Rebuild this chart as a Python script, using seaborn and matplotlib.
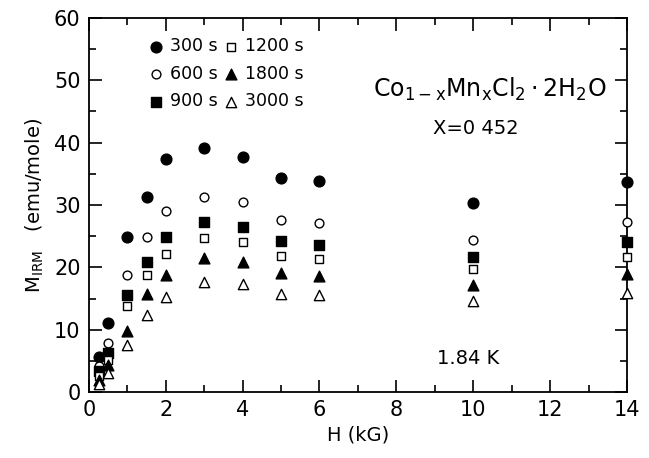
import pandas as pd
import seaborn as sns
import matplotlib.pyplot as plt
from matplotlib.ticker import MultipleLocator

# поле H (kG)
h_vals = [0.25, 0.5, 1, 1.5, 2, 3, 4, 5, 6, 10, 14]

# M_IRM для разных времен выдержки, читано с картинки
m_300 = [5.7, 11.1, 24.8, 31.2, 37.3, 39.1, 37.7, 34.3, 33.8, 30.3, 33.7]
m_600 = [4.1, 7.9, 18.8, 24.9, 29.1, 31.3, 30.4, 27.6, 27.1, 24.4, 27.3]
m_900 = [3.3, 6.3, 15.6, 20.8, 24.9, 27.2, 26.5, 24.2, 23.6, 21.7, 24.0]
m_1200 = [2.5, 5.2, 13.8, 18.8, 22.2, 24.7, 24.0, 21.8, 21.3, 19.8, 21.7]
m_1800 = [1.9, 4.3, 9.8, 15.7, 18.7, 21.5, 20.8, 19.1, 18.6, 17.1, 18.9]
m_3000 = [1.3, 3.0, 7.6, 12.4, 15.3, 17.7, 17.3, 15.7, 15.5, 14.6, 15.9]

labels = ['300 s', '600 s', '900 s', '1200 s', '1800 s', '3000 s']
series = [m_300, m_600, m_900, m_1200, m_1800, m_3000]
# маркер и заливка для каждой серии
styles = [('o', 'black', 60), ('o', 'white', 40), ('s', 'black', 45),
          ('s', 'white', 38), ('^', 'black', 60), ('^', 'white', 55)]

df = pd.concat([pd.DataFrame({'H': h_vals, 'M': m, 't': lab})
                for m, lab in zip(series, labels)], ignore_index=True)

sns.set_style('ticks', {'axes.edgecolor': 'black', 'text.color': 'black',
                        'axes.labelcolor': 'black', 'xtick.color': 'black',
                        'ytick.color': 'black'})
plt.rcParams['font.family'] = ['DejaVu Sans']

fig = plt.figure(figsize=(6.49, 4.58), dpi=100)
ax = fig.add_axes([0.137, 0.144, 0.829, 0.817])

# порядок в легенде по столбцам: 300,600,900 | 1200,1800,3000
for lab, (mk, fc, sz) in zip(labels, styles):
    sns.scatterplot(data=df[df.t == lab], x='H', y='M', marker=mk, s=sz,
                    facecolor=fc, edgecolor='black', linewidth=1.0,
                    label=lab, ax=ax, clip_on=False, zorder=3)

ax.set_xlim(0, 14)
ax.set_ylim(0, 60)
ax.xaxis.set_major_locator(MultipleLocator(2))
ax.xaxis.set_minor_locator(MultipleLocator(1))
ax.yaxis.set_major_locator(MultipleLocator(10))
ax.yaxis.set_minor_locator(MultipleLocator(5))
ax.tick_params(which='both', direction='in', top=True, right=True, width=1.2,
               colors='black')
ax.tick_params(which='major', length=9, labelsize=15, pad=6)
ax.tick_params(which='minor', length=5)
for sp in ax.spines.values():
    sp.set_linewidth(1.3)
    sp.set_visible(True)
    sp.set_color('black')

ax.set_xlabel('H (kG)', fontsize=14, labelpad=4, color='black')
ax.set_ylabel(r'M$_{\rm IRM}$   (emu/mole)', fontsize=14, labelpad=6, color='black')

ax.legend(ncol=2, loc='upper left', bbox_to_anchor=(0.08, 0.99), frameon=False,
          fontsize=12.5, handletextpad=0.3, columnspacing=0.25,
          labelspacing=0.55, handlelength=1.0, labelcolor='black')

ax.text(0.745, 0.81, r'Co$_{\rm 1-x}$Mn$_{\rm x}$Cl$_2\cdot$2H$_2$O', transform=ax.transAxes,
        fontsize=17, ha='center', va='center', color='black')
ax.text(0.72, 0.705, 'X=0 452', transform=ax.transAxes,
        fontsize=14, ha='center', va='center', color='black')
ax.text(0.705, 0.09, '1.84 K', transform=ax.transAxes,
        fontsize=14, ha='center', va='center', color='black')

fig.savefig('out.png', dpi=100)
